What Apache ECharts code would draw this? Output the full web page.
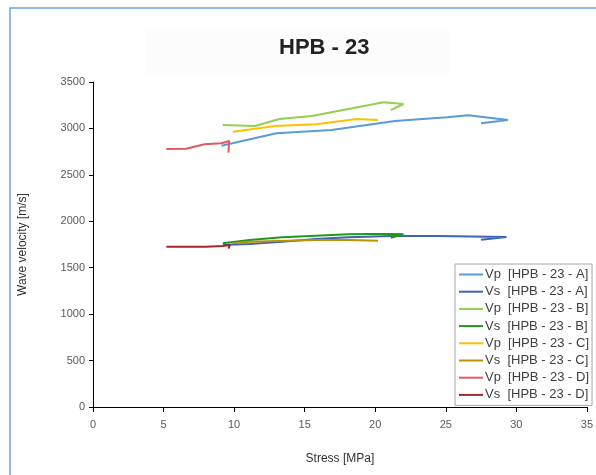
<!DOCTYPE html>
<html>
<head>
<meta charset="utf-8">
<script src="https://cdn.jsdelivr.net/npm/echarts@6/dist/echarts.min.js"></script>
<style>
  html, body { margin: 0; padding: 0; background: #fff; }
  #chart { width: 596px; height: 475px; }
</style>
</head>
<body>
<div id="chart"></div>
<script>
// Stress [MPa] / wave velocity [m/s] readings per specimen
const stressVpA = [9.1, 13.0, 16.9, 21.4, 25.1, 26.6, 29.4, 27.5];
const vpA       = [2814, 2947, 2983, 3080, 3120, 3141, 3091, 3055];
const stressVsA = [9.2, 11.1, 13.4, 15.8, 18.1, 21.1, 24.4, 29.3, 27.5];
const vsA       = [1745, 1755, 1780, 1809, 1827, 1841, 1841, 1830, 1800];

const stressVpB = [9.2, 11.5, 13.2, 15.5, 20.6, 22.0, 21.1];
const vpB       = [3037, 3026, 3101, 3134, 3281, 3263, 3198];
const stressVsB = [9.2, 11.1, 13.4, 15.8, 18.1, 19.5, 21.5, 22.0, 21.1];
const vsB       = [1763, 1798, 1827, 1845, 1860, 1863, 1863, 1860, 1823];

const stressVpC = [9.9, 12.9, 15.8, 18.7, 20.2];
const vpC       = [2965, 3026, 3044, 3101, 3091];
const stressVsC = [9.9, 11.1, 15.8, 18.1, 20.2];
const vsC       = [1763, 1780, 1798, 1798, 1791];

const stressVpD = [5.2, 6.6, 7.9, 9.1, 9.65, 9.6];
const vpD       = [2778, 2782, 2829, 2840, 2865, 2740];
const stressVsD = [5.2, 6.6, 8.0, 9.2, 9.7, 9.6];
const vsD       = [1726, 1726, 1726, 1734, 1745, 1705];

const seriesNames = [
  'Vp  [HPB - 23 - A]', 'Vs  [HPB - 23 - A]',
  'Vp  [HPB - 23 - B]', 'Vs  [HPB - 23 - B]',
  'Vp  [HPB - 23 - C]', 'Vs  [HPB - 23 - C]',
  'Vp  [HPB - 23 - D]', 'Vs  [HPB - 23 - D]'
];
const seriesColors = [
  '#5B9BD5', '#3F64B0',
  '#92D050', '#1E9A1E',
  '#FFC000', '#BF9000',
  '#E0595C', '#A3262A'
];
const xValues = [stressVpA, stressVsA, stressVpB, stressVsB, stressVpC, stressVsC, stressVpD, stressVsD];
const yValues = [vpA, vsA, vpB, vsB, vpC, vsC, vpD, vsD];

const xTicks = [0, 5, 10, 15, 20, 25, 30, 35];
const yTicks = [0, 500, 1000, 1500, 2000, 2500, 3000, 3500];

const pair = (xs, ys) => xs.map((x, i) => [x, ys[i]]);

const series = seriesNames.map((name, k) => ({
  name,
  type: 'line',
  data: pair(xValues[k], yValues[k]),
  showSymbol: false,
  symbol: 'none',
  lineStyle: { width: 2, color: seriesColors[k] },
  itemStyle: { color: seriesColors[k] },
  z: 10 - (k % 2)
}));

const chart = echarts.init(document.getElementById('chart'), null, { renderer: 'canvas' });
chart.setOption({
  animation: false,
  backgroundColor: '#ffffff',
  textStyle: { fontFamily: 'Liberation Sans, Arial, sans-serif' },
  graphic: [
    { type: 'rect', shape: { x: 10, y: 8, width: 600, height: 480 },
      style: { fill: 'none', stroke: '#6FA3D8', lineWidth: 1.5 }, z: -1 },
    { type: 'rect', shape: { x: 145, y: 31, width: 305, height: 42 },
      style: { fill: '#fcfcfc' }, z: -1 }
  ],
  title: {
    text: 'HPB - 23',
    left: 274,
    top: 32,
    textStyle: { fontSize: 22, fontWeight: 'bold', color: '#222' }
  },
  grid: { left: 93, right: 6, top: 82, bottom: 68 },
  xAxis: {
    type: 'value',
    min: xTicks[0], max: xTicks[xTicks.length - 1], interval: 5,
    name: 'Stress [MPa]',
    nameLocation: 'middle',
    nameGap: 46,
    nameTextStyle: { fontSize: 12, color: '#333' },
    splitLine: { show: false },
    axisLine: { onZero: false, lineStyle: { color: '#000', width: 1 } },
    axisTick: { show: true, inside: false, length: 5, lineStyle: { color: '#000' } },
    axisLabel: { fontSize: 11, color: '#595959', margin: 12 }
  },
  yAxis: {
    type: 'value',
    min: yTicks[0], max: yTicks[yTicks.length - 1], interval: 500,
    name: 'Wave velocity [m/s]',
    nameLocation: 'middle',
    nameGap: 64,
    nameTextStyle: { fontSize: 12, color: '#333' },
    splitLine: { show: false },
    axisLine: { show: true, lineStyle: { color: '#000', width: 1 } },
    axisTick: { show: true, length: 4, lineStyle: { color: '#000' } },
    axisLabel: { fontSize: 11, color: '#595959', margin: 8, formatter: v => String(v) }
  },
  legend: {
    orient: 'vertical',
    left: 455,
    top: 264,
    data: seriesNames,
    icon: 'rect',
    itemWidth: 24,
    itemHeight: 2,
    itemGap: 4.2,
    padding: [4, 3, 4, 4],
    backgroundColor: '#ffffff',
    borderColor: '#a6a6a6',
    borderWidth: 1,
    textStyle: { fontSize: 13, color: '#404040', padding: [0, 0, 0, -3] }
  },
  series
});
</script>
</body>
</html>
